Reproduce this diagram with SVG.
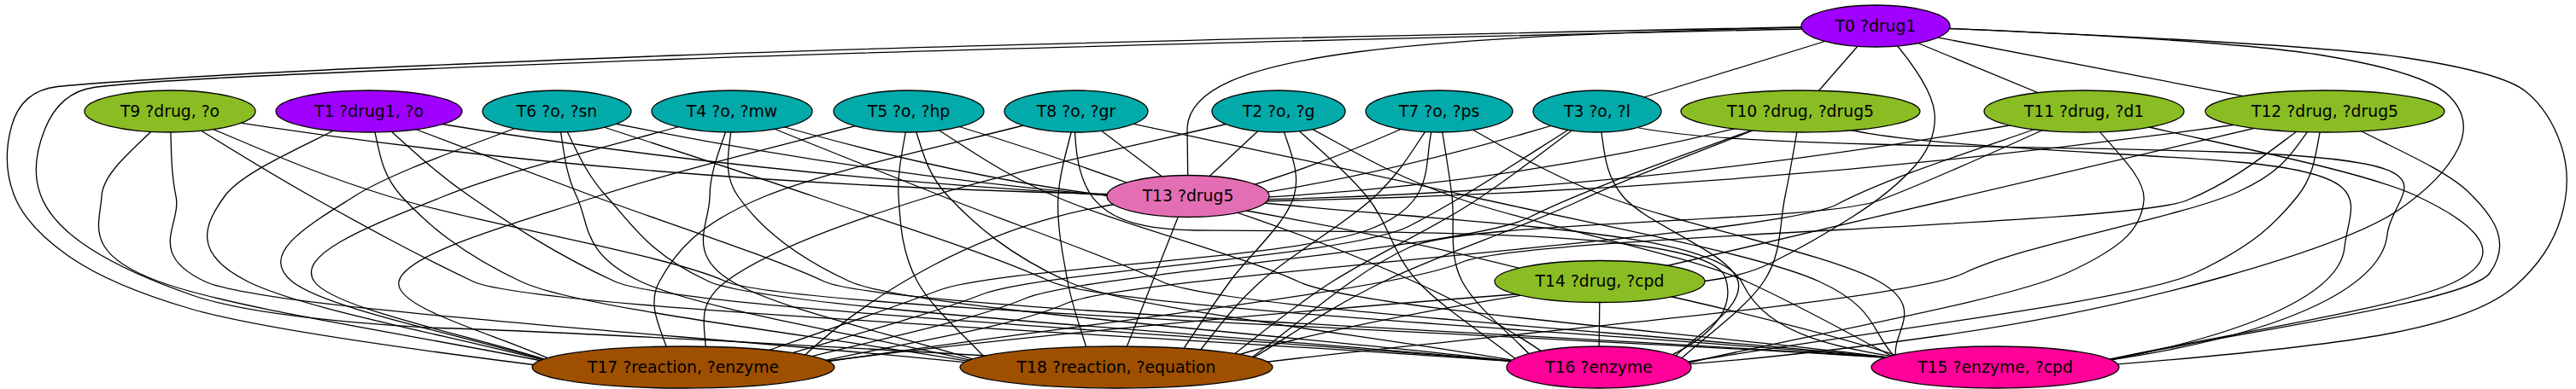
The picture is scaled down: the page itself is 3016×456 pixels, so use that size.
<svg xmlns="http://www.w3.org/2000/svg" width="3016" height="456" viewBox="0 0 3016 456">
<style>
.e{fill:none;stroke:#000;stroke-width:1.3}
.n ellipse{stroke:#000;stroke-width:1.3}
.n text{font-family:"DejaVu Sans","Liberation Sans",sans-serif;font-size:18.8px;text-anchor:middle;fill:#000}
.pu{fill:#a000ff}.gr{fill:#8abd24}.te{fill:#02aaaa}.pk{fill:#e46eb4}.mg{fill:#ff0099}.br{fill:#9e5000}
</style>
<rect width="3016" height="456" fill="#fff"/>
<g id="edges">
<path class="e" d="M2196,30 L1870,131"/>
<path class="e" d="M2196,30 L2108,131"/>
<path class="e" d="M2196,30 L2440,131"/>
<path class="e" d="M2196,30 L2722,131"/>
<path class="e" d="M2196,30 C1650,42 1395,60 1390,150 L1391,230"/>
<path class="e" d="M2210,40 Q2262,100 2265,132.5 Q2268,165 2241.5,195 Q2215,225 2167.5,255 Q2120,285 2075,307.5 Q2030,330 1960,332"/>
<path class="e" d="M2196,30 Q2700,50 2815,67.5 Q2930,85 2957.5,107.5 Q2985,130 2998.5,170 Q3012,210 2998.5,255 Q2985,300 2945,335 Q2905,370 2802.5,390 Q2700,410 2440,430"/>
<path class="e" d="M2196,30 Q2600,45 2720,65 Q2840,85 2867.5,112.5 Q2895,140 2877.5,175 Q2860,210 2810,245 Q2760,280 2605,324 Q2450,368 2275,393 Q2100,418 1960,428"/>
<path class="e" d="M2196,30 Q1180,50 790,65 Q400,80 255,88.5 Q110,97 67.5,101.5 Q25,106 13.5,148 Q2,190 16,227.5 Q30,265 80,300 Q130,335 225,362.5 Q320,390 660,432"/>
<path class="e" d="M2196,32 Q1180,55 790,69.5 Q400,84 275,90.5 Q150,97 110,102.5 Q70,108 52.5,151.5 Q35,195 47.5,228.5 Q60,262 105,291 Q150,320 225,346 Q300,372 500,384 Q700,390 1240,422"/>
<path class="e" d="M199,131 Q700,215 1320,228"/>
<path class="e" d="M432,131 Q850,205 1320,230"/>
<path class="e" d="M652,131 Q1000,205 1320,231"/>
<path class="e" d="M857,131 Q1120,210 1320,232"/>
<path class="e" d="M1064,131 Q1200,170 1330,218"/>
<path class="e" d="M1260,131 L1391,230"/>
<path class="e" d="M1497,131 L1391,230"/>
<path class="e" d="M1685,131 Q1560,190 1450,222"/>
<path class="e" d="M1870,131 Q1650,200 1465,228"/>
<path class="e" d="M2108,131 Q1800,215 1465,232"/>
<path class="e" d="M2440,131 Q1950,225 1465,234"/>
<path class="e" d="M2722,131 Q2100,225 1465,236"/>
<path class="e" d="M199,131 C172,164 121,197 119,230 S96,297 186,330 S501,395 659,428"/>
<path class="e" d="M199,131 C201,164 199,197 206,230 S170,297 240,330 S854,395 1161,428"/>
<path class="e" d="M199,131 C254,164 305,197 364,230 S484,297 554,330 S1375,393 1786,425"/>
<path class="e" d="M199,131 C284,164 347,197 455,230 S780,298 850,330 S1763,390 2220,420"/>
<path class="e" d="M432,131 C376,164 287,197 263,230 S224,297 290,330 S536,395 659,428"/>
<path class="e" d="M432,131 C445,164 440,197 470,230 S540,297 610,330 S977,395 1161,428"/>
<path class="e" d="M432,131 C471,164 502,197 550,230 S650,298 720,330 S1431,393 1786,425"/>
<path class="e" d="M432,131 C520,164 606,197 695,230 S895,298 965,330 S1802,390 2220,420"/>
<path class="e" d="M652,131 C573,164 467,197 415,230 S301,297 342,330 S553,395 659,428"/>
<path class="e" d="M652,131 C660,164 659,197 675,230 S680,297 750,330 S1024,395 1161,428"/>
<path class="e" d="M652,131 C671,164 680,197 710,230 S760,298 830,330 S1467,393 1786,425"/>
<path class="e" d="M652,131 C752,164 856,197 952,230 S1160,298 1230,330 S1890,390 2220,420"/>
<path class="e" d="M857,131 C745,164 602,197 520,230 S345,297 368,330 S562,395 659,428"/>
<path class="e" d="M857,131 C848,164 831,197 831,230 S802,297 857,330 S1060,395 1161,428"/>
<path class="e" d="M857,131 C859,164 841,197 864,230 S925,298 995,330 S1522,393 1786,425"/>
<path class="e" d="M857,131 C939,164 1019,197 1103,230 S1290,298 1360,330 S1933,390 2220,420"/>
<path class="e" d="M1064,131 C943,164 800,197 700,230 S474,297 467,330 S595,395 659,428"/>
<path class="e" d="M1064,131 C1060,164 1050,197 1052,230 S1056,297 1074,330 S1132,395 1161,428"/>
<path class="e" d="M1064,131 C1079,164 1079,197 1110,230 S1180,298 1250,330 S1607,393 1786,425"/>
<path class="e" d="M1064,131 C1121,164 1159,197 1235,230 S1450,298 1520,330 S1987,390 2220,420"/>
<path class="e" d="M1260,131 C1139,164 977,197 896,230 S790,297 772,330 S781,395 786,428"/>
<path class="e" d="M1260,131 C1253,164 1241,197 1239,230 S1244,297 1250,330 S1269,395 1278,428"/>
<path class="e" d="M1258,131 C1258,230 1280,268 1400,270 C1700,272 2000,272 2020,325 C2035,370 1990,405 1930,428"/>
<path class="e" d="M1260,131 C1413,164 1575,197 1720,230 S2060,298 2130,330 S2190,390 2220,420"/>
<path class="e" d="M1497,131 C1361,164 1198,197 1090,230 S894,297 850,330 S833,395 825,428"/>
<path class="e" d="M1497,131 C1503,164 1525,197 1515,230 S1464,297 1440,330 S1395,395 1373,428"/>
<path class="e" d="M1497,131 C1531,164 1573,197 1600,230 S1630,298 1660,330 S1740,393 1780,425"/>
<path class="e" d="M1497,131 C1565,164 1609,197 1700,230 S1975,298 2045,330 S2162,390 2220,420"/>
<path class="e" d="M1685,131 C1657,177 1698,235 1600,270 S1170,314 1100,340 S933,399 850,428"/>
<path class="e" d="M1685,131 C1660,164 1645,197 1610,230 S1513,297 1476,330 S1419,395 1391,428"/>
<path class="e" d="M1685,131 C1690,164 1696,197 1700,230 S1695,298 1712,330 S1771,393 1800,425"/>
<path class="e" d="M1685,131 C1750,164 1794,197 1880,230 S2143,298 2200,330 S2213,390 2220,420"/>
<path class="e" d="M1870,131 C1797,176 1720,229 1650,265 S1220,318 1150,345 S970,400 880,428"/>
<path class="e" d="M1870,131 C1820,167 1772,207 1720,240 S1609,299 1560,330 S1472,395 1428,428"/>
<path class="e" d="M1870,131 C1880,164 1873,197 1900,230 S2027,297 2035,330 S1979,395 1951,428"/>
<path class="e" d="M1870,131 C1900,175 2300,168 2600,178 S2800,222 2795,275 S2700,390 2450,425"/>
<path class="e" d="M2108,131 C2002,172 1860,219 1790,255 S1270,321 1200,350 S1007,402 910,428"/>
<path class="e" d="M2108,131 C2022,166 1920,202 1850,235 S1686,298 1620,330 S1509,395 1453,428"/>
<path class="e" d="M2108,131 C2102,164 2097,197 2090,230 S2087,297 2065,330 S1995,395 1960,428"/>
<path class="e" d="M2108,131 C2150,172 2450,175 2620,190 S2750,240 2745,290 S2650,390 2440,428"/>
<path class="e" d="M2440,131 C2343,167 2220,203 2150,240 S1320,324 1250,355 S1044,404 941,428"/>
<path class="e" d="M2440,131 C2360,166 2270,209 2200,235 S1720,258 1650,290 S1519,382 1453,428"/>
<path class="e" d="M2440,131 C2463,166 2513,204 2510,235 S2490,288 2420,320 S2117,392 1965,428"/>
<path class="e" d="M2440,131 C2570,164 2760,197 2830,230 S2938,298 2875,330 S2593,393 2452,425"/>
<path class="e" d="M2722,131 C2668,166 2630,206 2560,235 S1780,276 1710,308 S1197,388 941,428"/>
<path class="e" d="M2722,131 C2688,162 2690,194 2620,225 S2370,286 2300,320 S1735,392 1453,428"/>
<path class="e" d="M2722,131 C2711,164 2715,199 2690,230 S2640,287 2570,320 S2167,391 1965,426"/>
<path class="e" d="M2722,131 C2778,164 2858,194 2890,225 S2940,285 2915,320 S2608,390 2455,425"/>
<path class="e" d="M1330,236 C1150,258 1010,350 930,428"/>
<path class="e" d="M1385,240 L1310,430"/>
<path class="e" d="M1420,240 Q1650,280 1820,325"/>
<path class="e" d="M1391,230 Q1700,330 1830,430"/>
<path class="e" d="M1460,236 C1750,265 2010,270 2040,332 S2150,410 2270,425"/>
<path class="e" d="M1873,330 L2722,131"/>
<path class="e" d="M1840,340 Q1300,380 930,428"/>
<path class="e" d="M1820,340 Q1560,380 1420,425"/>
<path class="e" d="M1873,340 L1872,420"/>
<path class="e" d="M1900,335 Q2150,390 2260,430"/>
</g>
<g id="T0" class="n"><ellipse class="pu" cx="2196" cy="30.5" rx="87" ry="24.5"/><text x="2196" y="36.5">T0 ?drug1</text></g>
<g id="T9" class="n"><ellipse class="gr" cx="199" cy="130.5" rx="100" ry="24.5"/><text x="199" y="136.5">T9 ?drug, ?o</text></g>
<g id="T1" class="n"><ellipse class="pu" cx="432" cy="130.5" rx="109" ry="24.5"/><text x="432" y="136.5">T1 ?drug1, ?o</text></g>
<g id="T6" class="n"><ellipse class="te" cx="652" cy="130.5" rx="87" ry="24.5"/><text x="652" y="136.5">T6 ?o, ?sn</text></g>
<g id="T4" class="n"><ellipse class="te" cx="857" cy="130.5" rx="94" ry="24.5"/><text x="857" y="136.5">T4 ?o, ?mw</text></g>
<g id="T5" class="n"><ellipse class="te" cx="1064" cy="130.5" rx="88" ry="24.5"/><text x="1064" y="136.5">T5 ?o, ?hp</text></g>
<g id="T8" class="n"><ellipse class="te" cx="1260" cy="130.5" rx="84" ry="24.5"/><text x="1260" y="136.5">T8 ?o, ?gr</text></g>
<g id="T2" class="n"><ellipse class="te" cx="1497" cy="130.5" rx="78" ry="24.5"/><text x="1497" y="136.5">T2 ?o, ?g</text></g>
<g id="T7" class="n"><ellipse class="te" cx="1685" cy="130.5" rx="86" ry="24.5"/><text x="1685" y="136.5">T7 ?o, ?ps</text></g>
<g id="T3" class="n"><ellipse class="te" cx="1870" cy="130.5" rx="75" ry="24.5"/><text x="1870" y="136.5">T3 ?o, ?l</text></g>
<g id="T10" class="n"><ellipse class="gr" cx="2108" cy="130.5" rx="140" ry="24.5"/><text x="2108" y="136.5">T10 ?drug, ?drug5</text></g>
<g id="T11" class="n"><ellipse class="gr" cx="2440" cy="130.5" rx="117" ry="24.5"/><text x="2440" y="136.5">T11 ?drug, ?d1</text></g>
<g id="T12" class="n"><ellipse class="gr" cx="2722" cy="130.5" rx="140" ry="24.5"/><text x="2722" y="136.5">T12 ?drug, ?drug5</text></g>
<g id="T13" class="n"><ellipse class="pk" cx="1391" cy="230" rx="95" ry="24.5"/><text x="1391" y="236">T13 ?drug5</text></g>
<g id="T14" class="n"><ellipse class="gr" cx="1873" cy="330" rx="123" ry="24.5"/><text x="1873" y="336">T14 ?drug, ?cpd</text></g>
<g id="T17" class="n"><ellipse class="br" cx="800" cy="430.5" rx="177" ry="24.5"/><text x="800" y="436.5">T17 ?reaction, ?enzyme</text></g>
<g id="T18" class="n"><ellipse class="br" cx="1307" cy="430.5" rx="183" ry="24.5"/><text x="1307" y="436.5">T18 ?reaction, ?equation</text></g>
<g id="T16" class="n"><ellipse class="mg" cx="1872" cy="430.5" rx="108" ry="24.5"/><text x="1872" y="436.5">T16 ?enzyme</text></g>
<g id="T15" class="n"><ellipse class="mg" cx="2336" cy="430.5" rx="145" ry="24.5"/><text x="2336" y="436.5">T15 ?enzyme, ?cpd</text></g>
</svg>
